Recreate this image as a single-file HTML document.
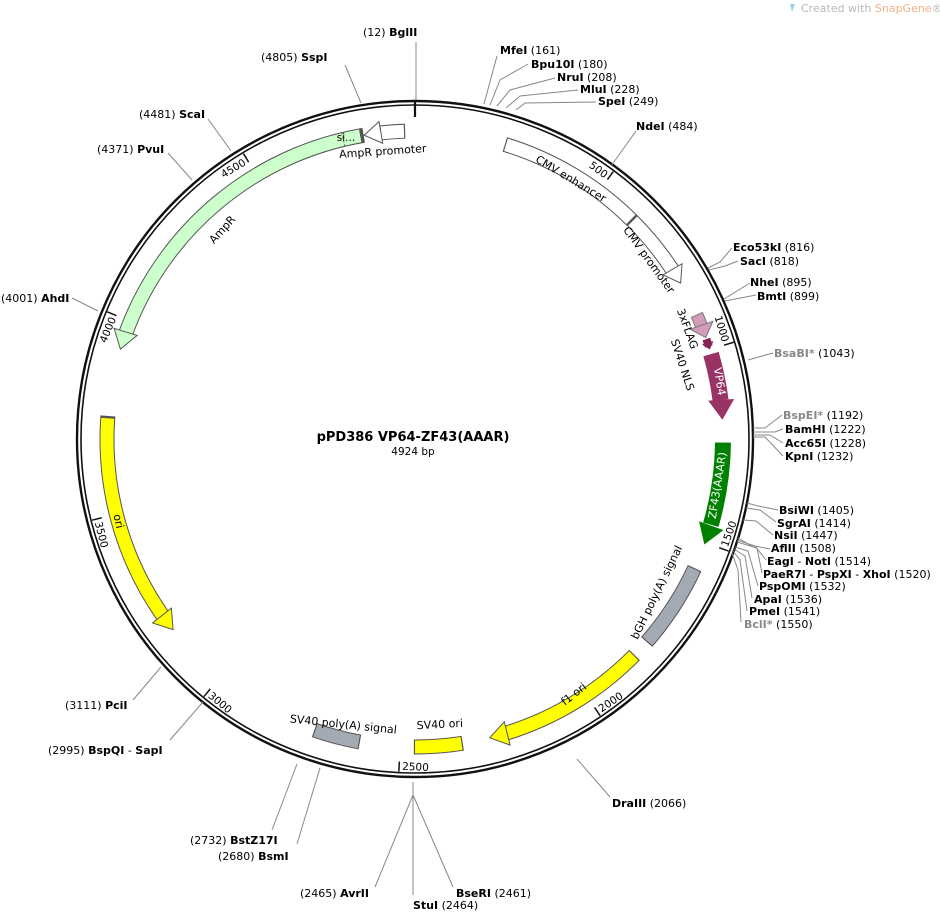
<!DOCTYPE html>
<html><head><meta charset="utf-8"><style>
html,body{margin:0;padding:0;background:#fff;}
svg{display:block;}
text{font-family:"DejaVu Sans","Liberation Sans",sans-serif;}
.e{font-size:11px;fill:#000;white-space:pre;}
.b{font-weight:bold;}
.g{fill:#888;}
.f{font-size:11px;fill:#000;}
.t{font-size:10.5px;fill:#000;}
.l{stroke:#888;stroke-width:1;fill:none;}
</style></head><body>
<svg width="940" height="912" viewBox="0 0 940 912" xmlns="http://www.w3.org/2000/svg">
<rect width="940" height="912" fill="#fff"/>
<path d="M790 4 l5 0 l-3 8 z" fill="#9cd3e6"/>
<text x="801" y="12" style="font-size:11px;fill:#b8b8b8">Created with <tspan style="fill:#f4b08a">SnapGene</tspan>®</text>

<circle cx="415" cy="439" r="338" fill="none" stroke="#111" stroke-width="2.4"/>
<circle cx="415" cy="439" r="334" fill="none" stroke="#111" stroke-width="1.6"/>

<g stroke="#111" stroke-width="1.5">
<line x1="415" y1="101" x2="415" y2="117" stroke-width="2.2"/>
<line x1="415" y1="106" x2="415" y2="116" transform="rotate(36.56 415 439)"/>
<line x1="415" y1="106" x2="415" y2="116" transform="rotate(73.11 415 439)"/>
<line x1="415" y1="106" x2="415" y2="116" transform="rotate(109.67 415 439)"/>
<line x1="415" y1="106" x2="415" y2="116" transform="rotate(146.22 415 439)"/>
<line x1="415" y1="106" x2="415" y2="116" transform="rotate(182.78 415 439)"/>
<line x1="415" y1="106" x2="415" y2="116" transform="rotate(219.33 415 439)"/>
<line x1="415" y1="106" x2="415" y2="116" transform="rotate(255.89 415 439)"/>
<line x1="415" y1="106" x2="415" y2="116" transform="rotate(292.45 415 439)"/>
<line x1="415" y1="106" x2="415" y2="116" transform="rotate(329.0 415 439)"/>
</g>
<g class="t">
<text x="412" y="117" text-anchor="end" transform="rotate(36.56 415 439)" class="t">500</text>
<text x="412" y="117" text-anchor="end" transform="rotate(73.11 415 439)" class="t">1000</text>
<text x="418" y="770" transform="rotate(-70.33 415 439)" class="t">1500</text>
<text x="418" y="770" transform="rotate(-33.78 415 439)" class="t">2000</text>
<text x="418" y="770" transform="rotate(2.78 415 439)" class="t">2500</text>
<text x="418" y="770" transform="rotate(39.33 415 439)" class="t">3000</text>
<text x="418" y="770" transform="rotate(75.89 415 439)" class="t">3500</text>
<text x="412" y="117" text-anchor="end" transform="rotate(292.45 415 439)" class="t">4000</text>
<text x="412" y="117" text-anchor="end" transform="rotate(329.0 415 439)" class="t">4500</text>
</g>

<g fill="none">
<circle cx="415" cy="439" r="308" pathLength="4924" stroke="#555" stroke-width="15" stroke-dasharray="64 9000" transform="rotate(263.49 415 439)"/>
<circle cx="415" cy="439" r="308" pathLength="4924" stroke="#fff" stroke-width="13" stroke-dasharray="58 9000" transform="rotate(263.71 415 439)"/>
<circle cx="415" cy="439" r="308" pathLength="4924" stroke="#555" stroke-width="15" stroke-dasharray="822 9000" transform="rotate(200.33 415 439)"/>
<circle cx="415" cy="439" r="308" pathLength="4924" stroke="#ccffcc" stroke-width="13" stroke-dasharray="816 9000" transform="rotate(200.11 415 439)"/>
<circle cx="415" cy="439" r="308" pathLength="4924" stroke="#555" stroke-width="15" stroke-dasharray="380 9000" transform="rotate(-73.04 415 439)"/>
<circle cx="415" cy="439" r="308" pathLength="4924" stroke="#fff" stroke-width="13" stroke-dasharray="374 9000" transform="rotate(-72.82 415 439)"/>
<circle cx="415" cy="439" r="308" pathLength="4924" stroke="#555" stroke-width="15" stroke-dasharray="163 9000" transform="rotate(-45.26 415 439)"/>
<circle cx="415" cy="439" r="308" pathLength="4924" stroke="#fff" stroke-width="13" stroke-dasharray="160 9000" transform="rotate(-45.04 415 439)"/>
<circle cx="415" cy="439" r="308" pathLength="4924" stroke="#777" stroke-width="13" stroke-dasharray="32 9000" transform="rotate(-23.83 415 439)"/>
<circle cx="415" cy="439" r="308" pathLength="4924" stroke="#d29dbb" stroke-width="11" stroke-dasharray="30 9000" transform="rotate(-23.66 415 439)"/>
<circle cx="415" cy="439" r="308" pathLength="4924" stroke="#8b2252" stroke-width="8" stroke-dasharray="20 9000" transform="rotate(-18.94 415 439)"/>
<circle cx="415" cy="439" r="308" pathLength="4924" stroke="#993366" stroke-width="16" stroke-dasharray="120 9000" transform="rotate(-16.01 415 439)"/>
<circle cx="415" cy="439" r="308" pathLength="4924" stroke="#008000" stroke-width="16" stroke-dasharray="212 9000" transform="rotate(0.66 415 439)"/>
<circle cx="415" cy="439" r="308" pathLength="4924" stroke="#555" stroke-width="15" stroke-dasharray="225 9000" transform="rotate(24.78 415 439)"/>
<circle cx="415" cy="439" r="308" pathLength="4924" stroke="#a3aab3" stroke-width="13" stroke-dasharray="219 9000" transform="rotate(25.0 415 439)"/>
<circle cx="415" cy="439" r="308" pathLength="4924" stroke="#555" stroke-width="15" stroke-dasharray="387 9000" transform="rotate(44.52 415 439)"/>
<circle cx="415" cy="439" r="308" pathLength="4924" stroke="#ffff00" stroke-width="13" stroke-dasharray="385 9000" transform="rotate(44.74 415 439)"/>
<circle cx="415" cy="439" r="308" pathLength="4924" stroke="#555" stroke-width="15" stroke-dasharray="125 9000" transform="rotate(81.08 415 439)"/>
<circle cx="415" cy="439" r="308" pathLength="4924" stroke="#ffff00" stroke-width="13" stroke-dasharray="119 9000" transform="rotate(81.30 415 439)"/>
<circle cx="415" cy="439" r="308" pathLength="4924" stroke="#555" stroke-width="15" stroke-dasharray="120 9000" transform="rotate(100.31 415 439)"/>
<circle cx="415" cy="439" r="308" pathLength="4924" stroke="#a3aab3" stroke-width="13" stroke-dasharray="114 9000" transform="rotate(100.53 415 439)"/>
<circle cx="415" cy="439" r="308" pathLength="4924" stroke="#555" stroke-width="15" stroke-dasharray="537 9000" transform="rotate(145.05 415 439)"/>
<circle cx="415" cy="439" r="308" pathLength="4924" stroke="#ffff00" stroke-width="13" stroke-dasharray="531 9000" transform="rotate(145.05 415 439)"/>
</g>
<line x1="415" y1="124" x2="415" y2="138" stroke="#555" stroke-width="1" stroke-dasharray="2 2" transform="rotate(346.55 415 439)"/>
<line x1="415" y1="124" x2="415" y2="138" stroke="#555" stroke-width="1" transform="rotate(44.74 415 439)"/>

<g stroke="#555" stroke-width="1" stroke-linejoin="miter">
<polygon points="415,131 432,120 432,142" fill="#fff" transform="rotate(350.49 415 439)"/>
<polygon points="415,131 433,119 433,143" fill="#ccffcc" transform="rotate(286.96 415 439)"/>
<polygon points="415,131 399,120 399,142" fill="#fff" transform="rotate(59.59 415 439)"/>
<polygon points="415,131 402,119 402,143" fill="#d29dbb" stroke="#777" transform="rotate(70.77 415 439)"/>
<polygon points="415,131 408,125 408,137" fill="#8b2252" stroke="none" transform="rotate(73.11 415 439)"/>
<polygon points="415,131 395,118 395,144" fill="#993366" stroke="none" transform="rotate(86.42 415 439)"/>
<polygon points="415,131 395,118 395,144" fill="#008000" stroke="none" transform="rotate(110.03 415 439)"/>
<polygon points="415,131 397,119 397,143" fill="#ffff00" transform="rotate(165.96 415 439)"/>
<polygon points="415,131 433,119 433,143" fill="#ffff00" transform="rotate(231.76 415 439)"/>
</g>

<g class="f">
<text x="383" y="155" text-anchor="middle" transform="rotate(-4 383 155)">AmpR promoter</text>
<text x="346" y="141" text-anchor="middle" style="font-size:10.5px">si...</text>
<text x="225" y="232" text-anchor="middle" transform="rotate(-48 225 232)">AmpR</text>
<text x="569" y="182" text-anchor="middle" transform="rotate(31 569 182)">CMV enhancer</text>
<text x="646" y="262" text-anchor="middle" transform="rotate(54 646 262)">CMV promoter</text>
<text x="684" y="330" text-anchor="middle" transform="rotate(70 684 330)">3xFLAG</text>
<text x="679" y="366" text-anchor="middle" transform="rotate(72 679 366)">SV40 NLS</text>
<text x="716" y="382" text-anchor="middle" transform="rotate(81 716 382)" style="fill:#fff">VP64</text>
<text x="721" y="486" text-anchor="middle" transform="rotate(-81 721 486)" style="fill:#fff">ZF43(AAAR)</text>
<text x="660" y="594" text-anchor="middle" transform="rotate(-64 660 594)">bGH poly(A) signal</text>
<text x="576" y="697" text-anchor="middle" transform="rotate(-38 576 697)">f1 ori</text>
<text x="440" y="728" text-anchor="middle" transform="rotate(-3 440 728)">SV40 ori</text>
<text x="343" y="728" text-anchor="middle" transform="rotate(6 343 728)">SV40 poly(A) signal</text>
<text x="115" y="522" text-anchor="middle" transform="rotate(78 115 522)">ori</text>
</g>

<text x="413" y="441" text-anchor="middle" style="font-size:13px;font-weight:bold">pPD386 VP64-ZF43(AAAR)</text>
<text x="413" y="455" text-anchor="middle" style="font-size:10.5px">4924 bp</text>

<g class="l">
<line x1="416" y1="100" x2="416" y2="42"/>
<line x1="361" y1="103" x2="345" y2="65"/>
<line x1="231" y1="151" x2="208" y2="119"/>
<line x1="192" y1="180" x2="168" y2="153"/>
<line x1="98" y1="311" x2="72" y2="298"/>
<polyline points="484,104 497,56"/>
<polyline points="490,105 500,80 528,64"/>
<polyline points="497,106 510,90 555,78"/>
<polyline points="506,108 520,96 578,90"/>
<polyline points="516,110 525,103 596,102"/>
<line x1="611" y1="166" x2="636" y2="131"/>
<polyline points="708,268 720,262 732,248"/>
<polyline points="709,270 725,266 738,261"/>
<polyline points="724,299 750,283"/>
<polyline points="725,301 756,295"/>
<line x1="748" y1="360" x2="773" y2="353"/>
<polyline points="753,428 765,428 782,415"/>
<polyline points="753,432 775,432 783,429"/>
<polyline points="753,435 770,435 783,443"/>
<polyline points="753,437 765,437 783,456"/>
<polyline points="747,503 758,506 778,510"/>
<polyline points="746,508 760,510 776,522"/>
<polyline points="743,520 756,521 773,535"/>
<polyline points="738,538 750,545 770,549"/>
<polyline points="737,540 755,546 766,560"/>
<polyline points="737,542 757,548 762,573"/>
<polyline points="735,547 748,551 758,586"/>
<polyline points="734,549 745,556 752,598"/>
<polyline points="733,551 740,560 747,611"/>
<polyline points="732,553 738,570 741,622"/>
<line x1="577" y1="759" x2="610" y2="797"/>
<polyline points="413,782 413,795 375,887"/>
<polyline points="413,795 413,895"/>
<polyline points="413,795 453,887"/>
<line x1="297" y1="764" x2="272" y2="830"/>
<line x1="320" y1="768" x2="297" y2="844"/>
<line x1="203" y1="702" x2="170" y2="740"/>
<line x1="161" y1="667" x2="133" y2="700"/>
</g>

<g class="e">
<text x="363" y="36">(12)  <tspan class="b">BglII</tspan></text>
<text x="261" y="61">(4805)  <tspan class="b">SspI</tspan></text>
<text x="139" y="118">(4481)  <tspan class="b">ScaI</tspan></text>
<text x="97" y="153">(4371)  <tspan class="b">PvuI</tspan></text>
<text x="1" y="302">(4001)  <tspan class="b">AhdI</tspan></text>
<text x="500" y="54"><tspan class="b">MfeI</tspan>  (161)</text>
<text x="531" y="68"><tspan class="b">Bpu10I</tspan>  (180)</text>
<text x="557" y="81"><tspan class="b">NruI</tspan>  (208)</text>
<text x="580" y="93"><tspan class="b">MluI</tspan>  (228)</text>
<text x="598" y="105"><tspan class="b">SpeI</tspan>  (249)</text>
<text x="636" y="130"><tspan class="b">NdeI</tspan>  (484)</text>
<text x="733" y="251"><tspan class="b">Eco53kI</tspan>  (816)</text>
<text x="740" y="265"><tspan class="b">SacI</tspan>  (818)</text>
<text x="750" y="286"><tspan class="b">NheI</tspan>  (895)</text>
<text x="757" y="300"><tspan class="b">BmtI</tspan>  (899)</text>
<text x="774" y="357"><tspan class="b g">BsaBI*</tspan>  (1043)</text>
<text x="783" y="419"><tspan class="b g">BspEI*</tspan>  (1192)</text>
<text x="785" y="433"><tspan class="b">BamHI</tspan>  (1222)</text>
<text x="785" y="447"><tspan class="b">Acc65I</tspan>  (1228)</text>
<text x="785" y="460"><tspan class="b">KpnI</tspan>  (1232)</text>
<text x="779" y="514"><tspan class="b">BsiWI</tspan>  (1405)</text>
<text x="777" y="527"><tspan class="b">SgrAI</tspan>  (1414)</text>
<text x="774" y="539"><tspan class="b">NsiI</tspan>  (1447)</text>
<text x="771" y="552"><tspan class="b">AflII</tspan>  (1508)</text>
<text x="767" y="565"><tspan class="b">EagI</tspan> - <tspan class="b">NotI</tspan>  (1514)</text>
<text x="763" y="578"><tspan class="b">PaeR7I</tspan> - <tspan class="b">PspXI</tspan> - <tspan class="b">XhoI</tspan>  (1520)</text>
<text x="759" y="590"><tspan class="b">PspOMI</tspan>  (1532)</text>
<text x="754" y="603"><tspan class="b">ApaI</tspan>  (1536)</text>
<text x="749" y="615"><tspan class="b">PmeI</tspan>  (1541)</text>
<text x="744" y="628"><tspan class="b g">BclI*</tspan>  (1550)</text>
<text x="612" y="807"><tspan class="b">DraIII</tspan>  (2066)</text>
<text x="300" y="897">(2465)  <tspan class="b">AvrII</tspan></text>
<text x="413" y="909"><tspan class="b">StuI</tspan>  (2464)</text>
<text x="456" y="897"><tspan class="b">BseRI</tspan>  (2461)</text>
<text x="190" y="844">(2732)  <tspan class="b">BstZ17I</tspan></text>
<text x="218" y="860">(2680)  <tspan class="b">BsmI</tspan></text>
<text x="48" y="754">(2995)  <tspan class="b">BspQI</tspan> - <tspan class="b">SapI</tspan></text>
<text x="65" y="709">(3111)  <tspan class="b">PciI</tspan></text>
</g>
</svg>
</body></html>
